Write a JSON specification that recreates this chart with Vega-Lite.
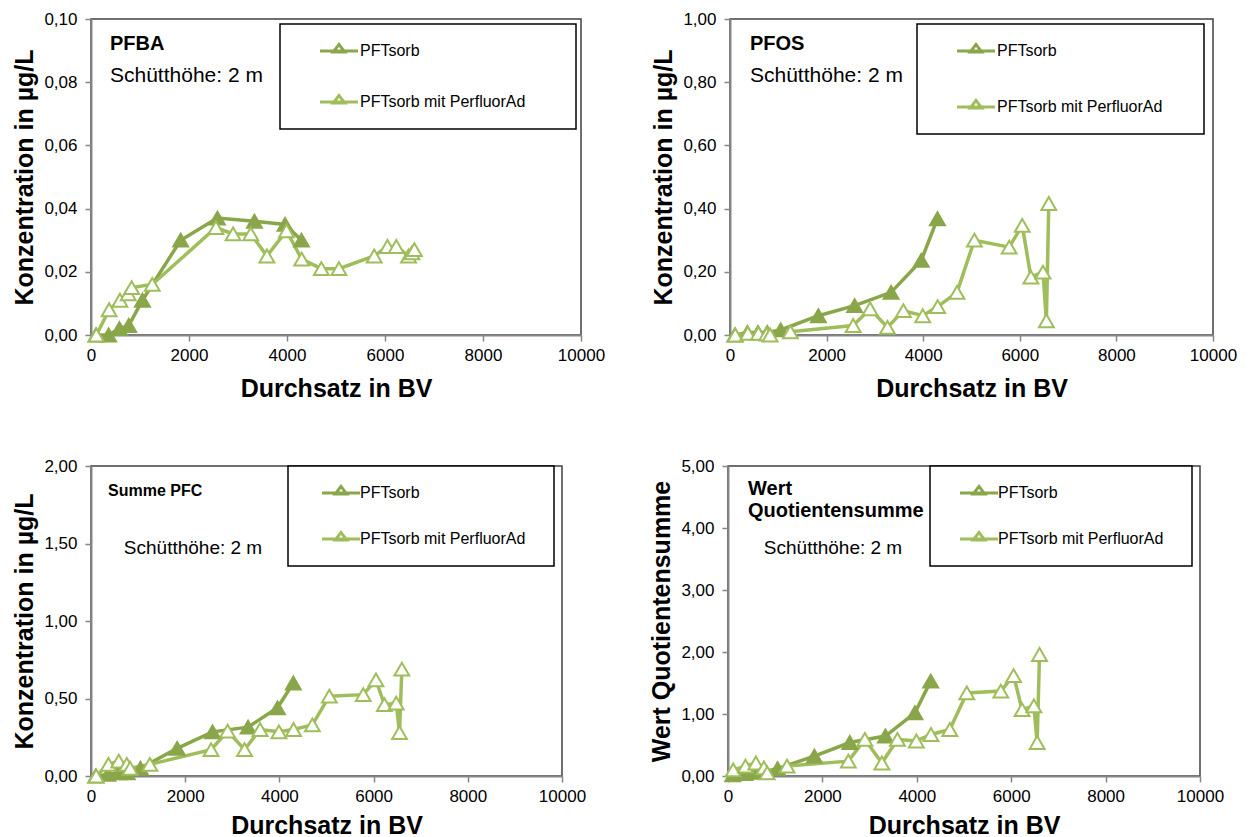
{
  "$schema": "https://vega.github.io/schema/vega-lite/v6.json",
  "padding": {"left": 12, "top": 9, "right": 0, "bottom": 0},
  "background": "white",
  "datasets": {
    "pfba": [
      {"s": "PFTsorb", "bv": 100, "v": 0.000}, {"s": "PFTsorb", "bv": 360, "v": 0.000}, {"s": "PFTsorb", "bv": 580, "v": 0.002}, {"s": "PFTsorb", "bv": 770, "v": 0.003}, {"s": "PFTsorb", "bv": 1050, "v": 0.011}, {"s": "PFTsorb", "bv": 1830, "v": 0.030}, {"s": "PFTsorb", "bv": 2580, "v": 0.037}, {"s": "PFTsorb", "bv": 3335, "v": 0.036}, {"s": "PFTsorb", "bv": 3960, "v": 0.035}, {"s": "PFTsorb", "bv": 4295, "v": 0.030},
      {"s": "PFTsorb mit PerfluorAd", "bv": 110, "v": 0.000}, {"s": "PFTsorb mit PerfluorAd", "bv": 370, "v": 0.008}, {"s": "PFTsorb mit PerfluorAd", "bv": 590, "v": 0.011}, {"s": "PFTsorb mit PerfluorAd", "bv": 760, "v": 0.013}, {"s": "PFTsorb mit PerfluorAd", "bv": 830, "v": 0.015}, {"s": "PFTsorb mit PerfluorAd", "bv": 1250, "v": 0.016}, {"s": "PFTsorb mit PerfluorAd", "bv": 2550, "v": 0.034}, {"s": "PFTsorb mit PerfluorAd", "bv": 2900, "v": 0.032}, {"s": "PFTsorb mit PerfluorAd", "bv": 3260, "v": 0.032}, {"s": "PFTsorb mit PerfluorAd", "bv": 3590, "v": 0.025}, {"s": "PFTsorb mit PerfluorAd", "bv": 3990, "v": 0.033}, {"s": "PFTsorb mit PerfluorAd", "bv": 4300, "v": 0.024}, {"s": "PFTsorb mit PerfluorAd", "bv": 4700, "v": 0.021}, {"s": "PFTsorb mit PerfluorAd", "bv": 5060, "v": 0.021}, {"s": "PFTsorb mit PerfluorAd", "bv": 5780, "v": 0.025}, {"s": "PFTsorb mit PerfluorAd", "bv": 6050, "v": 0.028}, {"s": "PFTsorb mit PerfluorAd", "bv": 6230, "v": 0.028}, {"s": "PFTsorb mit PerfluorAd", "bv": 6480, "v": 0.025}, {"s": "PFTsorb mit PerfluorAd", "bv": 6550, "v": 0.026}, {"s": "PFTsorb mit PerfluorAd", "bv": 6600, "v": 0.027}
    ],
    "pfos": [
      {"s": "PFTsorb", "bv": 100, "v": 0.000}, {"s": "PFTsorb", "bv": 360, "v": 0.008}, {"s": "PFTsorb", "bv": 580, "v": 0.008}, {"s": "PFTsorb", "bv": 770, "v": 0.008}, {"s": "PFTsorb", "bv": 1050, "v": 0.016}, {"s": "PFTsorb", "bv": 1830, "v": 0.061}, {"s": "PFTsorb", "bv": 2580, "v": 0.093}, {"s": "PFTsorb", "bv": 3335, "v": 0.135}, {"s": "PFTsorb", "bv": 3960, "v": 0.236}, {"s": "PFTsorb", "bv": 4295, "v": 0.368},
      {"s": "PFTsorb mit PerfluorAd", "bv": 110, "v": 0.000}, {"s": "PFTsorb mit PerfluorAd", "bv": 370, "v": 0.005}, {"s": "PFTsorb mit PerfluorAd", "bv": 590, "v": 0.005}, {"s": "PFTsorb mit PerfluorAd", "bv": 760, "v": 0.003}, {"s": "PFTsorb mit PerfluorAd", "bv": 830, "v": 0.000}, {"s": "PFTsorb mit PerfluorAd", "bv": 1250, "v": 0.010}, {"s": "PFTsorb mit PerfluorAd", "bv": 2550, "v": 0.030}, {"s": "PFTsorb mit PerfluorAd", "bv": 2900, "v": 0.083}, {"s": "PFTsorb mit PerfluorAd", "bv": 3260, "v": 0.024}, {"s": "PFTsorb mit PerfluorAd", "bv": 3590, "v": 0.077}, {"s": "PFTsorb mit PerfluorAd", "bv": 3990, "v": 0.061}, {"s": "PFTsorb mit PerfluorAd", "bv": 4300, "v": 0.090}, {"s": "PFTsorb mit PerfluorAd", "bv": 4700, "v": 0.135}, {"s": "PFTsorb mit PerfluorAd", "bv": 5060, "v": 0.300}, {"s": "PFTsorb mit PerfluorAd", "bv": 5780, "v": 0.278}, {"s": "PFTsorb mit PerfluorAd", "bv": 6050, "v": 0.347}, {"s": "PFTsorb mit PerfluorAd", "bv": 6230, "v": 0.183}, {"s": "PFTsorb mit PerfluorAd", "bv": 6480, "v": 0.199}, {"s": "PFTsorb mit PerfluorAd", "bv": 6550, "v": 0.045}, {"s": "PFTsorb mit PerfluorAd", "bv": 6600, "v": 0.416}
    ],
    "pfc": [
      {"s": "PFTsorb", "bv": 100, "v": 0.00}, {"s": "PFTsorb", "bv": 360, "v": 0.01}, {"s": "PFTsorb", "bv": 580, "v": 0.02}, {"s": "PFTsorb", "bv": 770, "v": 0.02}, {"s": "PFTsorb", "bv": 1050, "v": 0.05}, {"s": "PFTsorb", "bv": 1830, "v": 0.178}, {"s": "PFTsorb", "bv": 2580, "v": 0.285}, {"s": "PFTsorb", "bv": 3335, "v": 0.315}, {"s": "PFTsorb", "bv": 3960, "v": 0.44}, {"s": "PFTsorb", "bv": 4295, "v": 0.60},
      {"s": "PFTsorb mit PerfluorAd", "bv": 110, "v": 0.00}, {"s": "PFTsorb mit PerfluorAd", "bv": 370, "v": 0.075}, {"s": "PFTsorb mit PerfluorAd", "bv": 590, "v": 0.096}, {"s": "PFTsorb mit PerfluorAd", "bv": 760, "v": 0.075}, {"s": "PFTsorb mit PerfluorAd", "bv": 830, "v": 0.05}, {"s": "PFTsorb mit PerfluorAd", "bv": 1250, "v": 0.075}, {"s": "PFTsorb mit PerfluorAd", "bv": 2550, "v": 0.17}, {"s": "PFTsorb mit PerfluorAd", "bv": 2900, "v": 0.29}, {"s": "PFTsorb mit PerfluorAd", "bv": 3260, "v": 0.17}, {"s": "PFTsorb mit PerfluorAd", "bv": 3590, "v": 0.30}, {"s": "PFTsorb mit PerfluorAd", "bv": 3990, "v": 0.285}, {"s": "PFTsorb mit PerfluorAd", "bv": 4300, "v": 0.30}, {"s": "PFTsorb mit PerfluorAd", "bv": 4700, "v": 0.33}, {"s": "PFTsorb mit PerfluorAd", "bv": 5060, "v": 0.515}, {"s": "PFTsorb mit PerfluorAd", "bv": 5780, "v": 0.525}, {"s": "PFTsorb mit PerfluorAd", "bv": 6050, "v": 0.62}, {"s": "PFTsorb mit PerfluorAd", "bv": 6230, "v": 0.46}, {"s": "PFTsorb mit PerfluorAd", "bv": 6480, "v": 0.47}, {"s": "PFTsorb mit PerfluorAd", "bv": 6550, "v": 0.28}, {"s": "PFTsorb mit PerfluorAd", "bv": 6600, "v": 0.69}
    ],
    "qs": [
      {"s": "PFTsorb", "bv": 100, "v": 0.02}, {"s": "PFTsorb", "bv": 360, "v": 0.04}, {"s": "PFTsorb", "bv": 580, "v": 0.06}, {"s": "PFTsorb", "bv": 770, "v": 0.07}, {"s": "PFTsorb", "bv": 1050, "v": 0.12}, {"s": "PFTsorb", "bv": 1830, "v": 0.32}, {"s": "PFTsorb", "bv": 2580, "v": 0.54}, {"s": "PFTsorb", "bv": 3335, "v": 0.645}, {"s": "PFTsorb", "bv": 3960, "v": 1.02}, {"s": "PFTsorb", "bv": 4295, "v": 1.53},
      {"s": "PFTsorb mit PerfluorAd", "bv": 110, "v": 0.10}, {"s": "PFTsorb mit PerfluorAd", "bv": 370, "v": 0.16}, {"s": "PFTsorb mit PerfluorAd", "bv": 590, "v": 0.21}, {"s": "PFTsorb mit PerfluorAd", "bv": 760, "v": 0.13}, {"s": "PFTsorb mit PerfluorAd", "bv": 830, "v": 0.05}, {"s": "PFTsorb mit PerfluorAd", "bv": 1250, "v": 0.16}, {"s": "PFTsorb mit PerfluorAd", "bv": 2550, "v": 0.24}, {"s": "PFTsorb mit PerfluorAd", "bv": 2900, "v": 0.59}, {"s": "PFTsorb mit PerfluorAd", "bv": 3260, "v": 0.21}, {"s": "PFTsorb mit PerfluorAd", "bv": 3590, "v": 0.59}, {"s": "PFTsorb mit PerfluorAd", "bv": 3990, "v": 0.565}, {"s": "PFTsorb mit PerfluorAd", "bv": 4300, "v": 0.67}, {"s": "PFTsorb mit PerfluorAd", "bv": 4700, "v": 0.75}, {"s": "PFTsorb mit PerfluorAd", "bv": 5060, "v": 1.34}, {"s": "PFTsorb mit PerfluorAd", "bv": 5780, "v": 1.37}, {"s": "PFTsorb mit PerfluorAd", "bv": 6050, "v": 1.62}, {"s": "PFTsorb mit PerfluorAd", "bv": 6230, "v": 1.07}, {"s": "PFTsorb mit PerfluorAd", "bv": 6480, "v": 1.13}, {"s": "PFTsorb mit PerfluorAd", "bv": 6550, "v": 0.54}, {"s": "PFTsorb mit PerfluorAd", "bv": 6600, "v": 1.96}
    ]
  },
  "spacing": 54,
  "resolve": {"scale": {"color": "independent"}, "legend": {"color": "independent"}},
  "vconcat": [
    {
      "spacing": 45,
      "resolve": {"scale": {"color": "independent"}, "legend": {"color": "independent"}},
      "hconcat": [
        {
          "width": 490, "height": 316,
          "data": {"name": "pfba"},
          "title": {"text": "PFBA", "subtitle": "Schütthöhe: 2 m", "offset": -76, "dx": 19, "subtitlePadding": 11.5, "fontSize": 20, "subtitleFontSize": 21},
          "encoding": {
            "x": {"field": "bv", "type": "quantitative", "scale": {"domain": [0, 10000], "nice": false}, "axis": {"values": [0, 2000, 4000, 6000, 8000, 10000], "format": "d", "title": "Durchsatz in BV"}},
            "y": {"field": "v", "type": "quantitative", "scale": {"domain": [0, 0.1], "nice": false}, "axis": {"values": [0, 0.02, 0.04, 0.06, 0.08, 0.1], "format": ".2f", "title": "Konzentration in µg/L"}},
            "color": {"field": "s", "type": "nominal", "scale": {"domain": ["PFTsorb", "PFTsorb mit PerfluorAd"], "range": ["#8AA64A", "#9FBE5B"]},
              "legend": {"legendX": 189, "legendY": 5, "symbolOffset": 32, "labelOffset": 13, "rowPadding": 30,
                "labelExpr": "datum.label == 'PFTsorb' ? datum.label : datum.label + '\u00a0\u00a0\u00a0\u00a0\u00a0\u00a0\u00a0\u200b'"}}
          },
          "layer": [
            {"mark": {"type": "line", "strokeWidth": 3.5}},
            {"mark": {"type": "point", "shape": "triangle-up", "size": 220, "filled": false, "strokeWidth": 2, "opacity": 1},
             "encoding": {"fill": {"condition": {"test": "datum.s === 'PFTsorb'", "value": "#8AA64A"}, "value": "white"}}}
          ]
        },
        {
          "width": 483, "height": 316,
          "data": {"name": "pfos"},
          "title": {"text": "PFOS", "subtitle": "Schütthöhe: 2 m", "offset": -76, "dx": 20, "subtitlePadding": 11.5, "fontSize": 20, "subtitleFontSize": 21},
          "encoding": {
            "x": {"field": "bv", "type": "quantitative", "scale": {"domain": [0, 10000], "nice": false}, "axis": {"values": [0, 2000, 4000, 6000, 8000, 10000], "format": "d", "title": "Durchsatz in BV"}},
            "y": {"field": "v", "type": "quantitative", "scale": {"domain": [0, 1], "nice": false}, "axis": {"values": [0, 0.2, 0.4, 0.6, 0.8, 1], "format": ".2f", "title": "Konzentration in µg/L"}},
            "color": {"field": "s", "type": "nominal", "scale": {"domain": ["PFTsorb", "PFTsorb mit PerfluorAd"], "range": ["#8AA64A", "#9FBE5B"]},
              "legend": {"legendX": 187, "legendY": 5, "symbolOffset": 32, "labelOffset": 13, "rowPadding": 35,
                "labelExpr": "datum.label == 'PFTsorb' ? datum.label : datum.label + '\u00a0\u00a0\u00a0\u00a0\u00a0\u200b'"}}
          },
          "layer": [
            {"mark": {"type": "line", "strokeWidth": 3.5}},
            {"mark": {"type": "point", "shape": "triangle-up", "size": 220, "filled": false, "strokeWidth": 2, "opacity": 1},
             "encoding": {"fill": {"condition": {"test": "datum.s === 'PFTsorb'", "value": "#8AA64A"}, "value": "white"}}}
          ]
        }
      ]
    },
    {
      "spacing": 62,
      "resolve": {"scale": {"color": "independent"}, "legend": {"color": "independent"}},
      "hconcat": [
        {
          "width": 471, "height": 310,
          "data": {"name": "pfc"},
          "title": {"text": "Summe PFC", "subtitle": "\u200b\u00a0\u00a0\u00a0Schütthöhe: 2 m", "offset": -101, "dx": 17, "subtitlePadding": 40, "fontSize": 16},
          "encoding": {
            "x": {"field": "bv", "type": "quantitative", "scale": {"domain": [0, 10000], "nice": false}, "axis": {"values": [0, 2000, 4000, 6000, 8000, 10000], "format": "d", "title": "Durchsatz in BV", "titlePadding": 9}},
            "y": {"field": "v", "type": "quantitative", "scale": {"domain": [0, 2], "nice": false}, "axis": {"values": [0, 0.5, 1, 1.5, 2], "format": ".2f", "title": "Konzentration in µg/L"}},
            "color": {"field": "s", "type": "nominal", "scale": {"domain": ["PFTsorb", "PFTsorb mit PerfluorAd"], "range": ["#8AA64A", "#9FBE5B"]},
              "legend": {"legendX": 197, "legendY": 0, "symbolOffset": 26, "labelOffset": 11, "rowPadding": 25,
                "labelExpr": "datum.label == 'PFTsorb' ? datum.label : datum.label + '\u00a0\u00a0\u200b'"}}
          },
          "layer": [
            {"mark": {"type": "line", "strokeWidth": 3.5}},
            {"mark": {"type": "point", "shape": "triangle-up", "size": 220, "filled": false, "strokeWidth": 2, "opacity": 1},
             "encoding": {"fill": {"condition": {"test": "datum.s === 'PFTsorb'", "value": "#8AA64A"}, "value": "white"}}}
          ]
        },
        {
          "width": 472, "height": 310,
          "data": {"name": "qs"},
          "title": {"text": ["Wert", "Quotientensumme"], "subtitle": "\u200b\u00a0\u00a0\u00a0Schütthöhe: 2 m", "offset": -101, "dx": 20, "subtitlePadding": 18.5, "lineHeight": 22, "fontSize": 20},
          "encoding": {
            "x": {"field": "bv", "type": "quantitative", "scale": {"domain": [0, 10000], "nice": false}, "axis": {"values": [0, 2000, 4000, 6000, 8000, 10000], "format": "d", "title": "Durchsatz in BV", "titlePadding": 9}},
            "y": {"field": "v", "type": "quantitative", "scale": {"domain": [0, 5], "nice": false}, "axis": {"values": [0, 1, 2, 3, 4, 5], "format": ".2f", "title": "Wert Quotientensumme"}},
            "color": {"field": "s", "type": "nominal", "scale": {"domain": ["PFTsorb", "PFTsorb mit PerfluorAd"], "range": ["#8AA64A", "#9FBE5B"]},
              "legend": {"legendX": 202, "legendY": 0, "symbolOffset": 22, "labelOffset": 11, "rowPadding": 25,
                "labelExpr": "datum.label == 'PFTsorb' ? datum.label : datum.label + '\u00a0\u00a0\u200b'"}}
          },
          "layer": [
            {"mark": {"type": "line", "strokeWidth": 3.5}},
            {"mark": {"type": "point", "shape": "triangle-up", "size": 220, "filled": false, "strokeWidth": 2, "opacity": 1},
             "encoding": {"fill": {"condition": {"test": "datum.s === 'PFTsorb'", "value": "#8AA64A"}, "value": "white"}}}
          ]
        }
      ]
    }
  ],
  "config": {
    "font": "Liberation Sans",
    "locale": {"number": {"decimal": ",", "thousands": ".", "grouping": [3], "currency": ["", " €"]}},
    "view": {"stroke": "#404040", "strokeWidth": 1.5},
    "axis": {"grid": false, "labelFlush": false, "domainColor": "#868686", "domainWidth": 2, "tickColor": "#868686", "tickWidth": 1.5, "tickSize": 6,
      "labelFont": "Liberation Sans", "labelFontSize": 17, "labelColor": "black", "titleFont": "Liberation Sans", "titleFontSize": 25, "titleFontWeight": "bold", "titleColor": "black"},
    "axisY": {"labelPadding": 8, "titlePadding": 6},
    "axisX": {"labelPadding": 6, "titlePadding": 13},
    "title": {"anchor": "start", "frame": "group", "orient": "top", "font": "Liberation Sans", "fontSize": 17, "fontWeight": "bold", "color": "black",
      "subtitleFont": "Liberation Sans", "subtitleFontSize": 19, "subtitleColor": "black"},
    "legend": {"orient": "none", "title": null, "padding": 19, "strokeColor": "black", "strokeWidth": 1.5, "fillColor": "white",
      "symbolType": "M-2.92,0L2.92,0M-0.88,0.145L0,-1.02L0.88,0.145Z", "symbolSize": 169, "symbolStrokeWidth": 3,
      "labelFont": "Liberation Sans", "labelFontSize": 16, "labelColor": "black", "labelLimit": 0,
      "symbolOpacity": 1}
  }
}
